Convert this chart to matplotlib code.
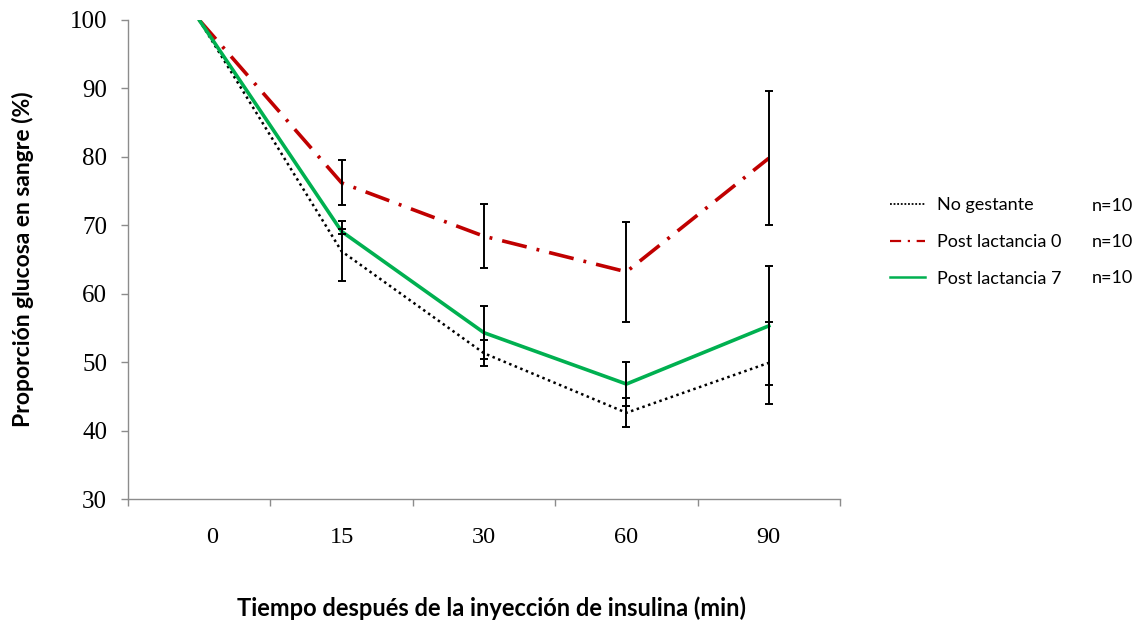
import numpy as np
import matplotlib
matplotlib.use("Agg")
import matplotlib.pyplot as plt
from matplotlib.lines import Line2D
from matplotlib.transforms import ScaledTranslation


# ==================== DATOS ====================
tiempos = ["0", "15", "30", "60", "90"]

no_gestante = [100, 66.2, 51.3, 42.6, 49.9]
no_gestante_err = [0, 4.4, 1.9, 2.1, 6.0]

post_lact_0 = [100, 76.2, 68.4, 63.2, 79.8]
post_lact_0_err = [0, 3.3, 4.7, 7.3, 9.8]

post_lact_7 = [100, 69.1, 54.3, 46.8, 55.3]
post_lact_7_err = [0, 0.4, 3.9, 3.2, 8.7]

n_grupo = ["n=10", "n=10", "n=10"]

GRIS = "#8c8c8c"
ROJO = "#C00000"
VERDE = "#00B050"
SERIF = "Liberation Serif"
SANS = "Lato"

fig = plt.figure(figsize=(11.41, 6.28), dpi=100)
ax = fig.add_axes([128 / 1141, 1 - 499 / 628, 712 / 1141, 479 / 628])

x = np.arange(len(tiempos))

# Líneas
ax.plot(x, no_gestante, color="black", lw=1.8,
        linestyle=(0, (1, 1.4)), zorder=3)
ax.plot(x, post_lact_0, color=ROJO, lw=2.6,
        linestyle=(0, (7, 2.8, 0.8, 2.8)), zorder=3)
ax.plot(x, post_lact_7, color=VERDE, lw=2.6, zorder=3)

# Barras de error
for vals, errs in [(no_gestante, no_gestante_err),
                   (post_lact_0, post_lact_0_err),
                   (post_lact_7, post_lact_7_err)]:
    ax.errorbar(x[1:], vals[1:], yerr=errs[1:], fmt="none", ecolor="black",
                elinewidth=1.4, capsize=3, capthick=1.4, zorder=4)

# Ejes
ax.set_xlim(-0.5, len(tiempos) - 0.5)
ax.set_ylim(30, 100)
ax.set_yticks(np.arange(30, 101, 10))
ax.set_xticks(np.arange(-0.5, len(tiempos), 1))
ax.set_xticklabels([])
ax.set_xticks(x, minor=True)
ax.set_xticklabels(tiempos, minor=True)

for s in ["top", "right"]:
    ax.spines[s].set_visible(False)
for s in ["left", "bottom"]:
    ax.spines[s].set_color(GRIS)
    ax.spines[s].set_linewidth(1.0)

ax.tick_params(axis="x", which="major", direction="out", length=5,
               color=GRIS, width=1.0)
ax.tick_params(axis="x", which="minor", length=0, pad=20,
               labelsize=17.5)
ax.tick_params(axis="y", direction="out", length=5, color=GRIS,
               width=1.0, pad=10, labelsize=18)
for lab in ax.get_xticklabels(minor=True) + ax.get_yticklabels():
    lab.set_fontfamily(SERIF)

# el "0" va un poco desplazado a la derecha
lab0 = ax.get_xticklabels(minor=True)[0]
lab0.set_transform(lab0.get_transform()
                   + ScaledTranslation(13 / 100, 0, fig.dpi_scale_trans))

ax.set_ylabel("Proporción glucosa en sangre (%)", fontfamily=SANS,
              fontweight="bold", fontsize=16.5)
ax.yaxis.set_label_coords(-0.132, 0.5)
ax.set_xlabel("Tiempo después de la inyección de insulina (min)",
              fontfamily=SANS, fontweight="bold", fontsize=17)
ax.xaxis.set_label_coords(0.51, -0.203)

# Leyenda
handles = [
    Line2D([], [], color="black", lw=1.3, linestyle=(0, (1, 1))),
    Line2D([], [], color=ROJO, lw=1.6, linestyle=(0, (5, 3, 1, 3))),
    Line2D([], [], color=VERDE, lw=1.8),
]
etiquetas = ["No gestante", "Post lactancia 0", "Post lactancia 7"]
fig.legend(handles, etiquetas, loc="center left",
           bbox_to_anchor=(874 / 1141, 1 - 242 / 628), frameon=False,
           prop={"family": SANS, "size": 13}, handlelength=1.9,
           handletextpad=0.7, labelspacing=1.15)

for i, txt in enumerate(n_grupo):
    fig.text(1092 / 1141, 1 - (206 + 36 * i) / 628, txt,
             fontfamily=SANS, fontsize=13, va="center", ha="left")

fig.savefig("out.png", dpi=100)
